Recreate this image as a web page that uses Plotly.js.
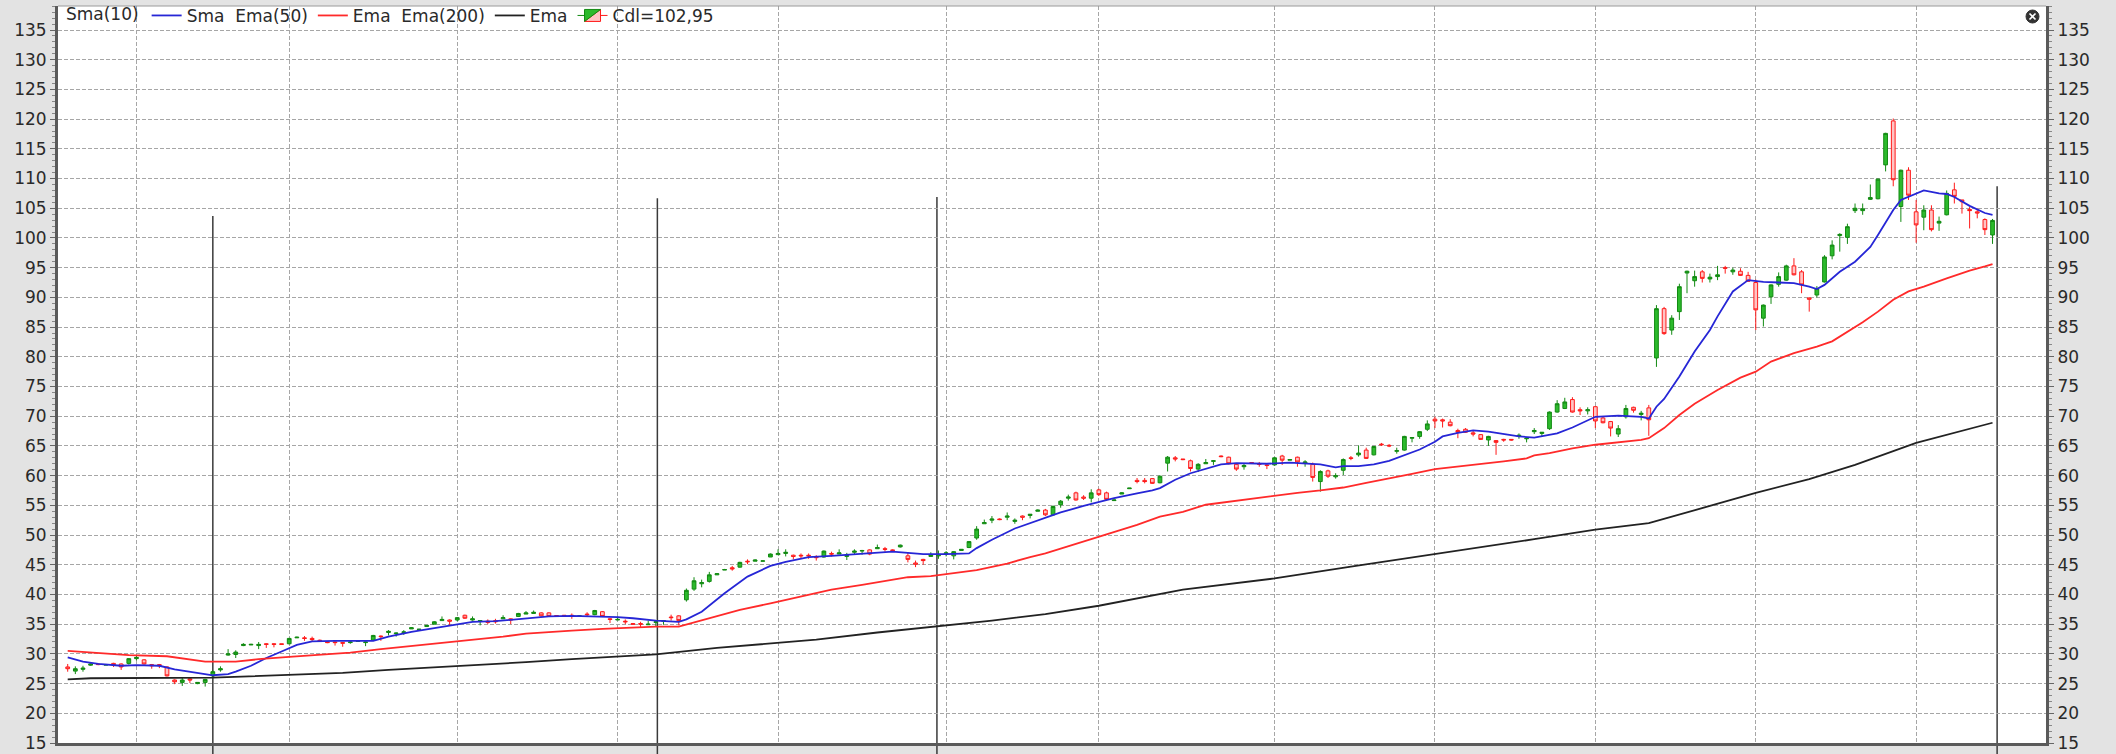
<!DOCTYPE html>
<html>
<head>
<meta charset="utf-8">
<script src="https://cdn.plot.ly/plotly-3.0.1.min.js"></script>
<style>
  html, body { margin: 0; padding: 0; background: #e3e3e3; }
  #chart { width: 2116px; height: 754px; }
</style>
</head>
<body>
<div id="chart"></div>
<script>
// candles, one per trading day
var open = [
  27.8, 27.1, 27.4, 28.1, 28.3, 28.1, 28.4, 28.3, 28.4, 29.2,
  29.0, 28.2, 28.2, 27.8, 25.6, 25.2, 25.8, 25.0, 25.2, 26.3,
  27.3, 29.8, 29.9, 31.4, 31.5, 31.4, 31.7, 31.7, 31.7, 31.7,
  32.7, 32.7, 32.6, 32.3, 32.0, 32.0, 31.9, 31.9, 32.1, 31.9,
  32.3, 33.0, 33.6, 33.4, 33.6, 34.2, 34.1, 34.6, 35.0, 35.6,
  35.7, 35.7, 36.5, 35.7, 35.5, 35.5, 35.6, 35.9, 35.9, 36.3,
  36.7, 36.8, 36.9, 36.9, 36.45, 36.5, 36.5, 36.3, 36.7, 36.6,
  37.1, 35.9, 35.7, 35.5, 35.1, 35.1, 34.9, 35.3, 35.5, 36.2,
  36.4, 39.1, 40.9, 41.8, 42.2, 43.3, 44.1, 44.5, 44.6, 45.6,
  45.6, 45.6, 46.3, 46.7, 46.9, 46.6, 46.6, 46.6, 46.3, 46.3,
  46.9, 46.8, 46.4, 47.1, 47.3, 47.5, 47.7, 47.7, 47.5, 48.0,
  46.5, 45.3, 45.9, 46.4, 46.5, 46.8, 46.5, 47.4, 47.9, 49.5,
  51.9, 52.5, 52.7, 53.0, 52.3, 53.2, 53.3, 54.0, 54.2, 53.4,
  55.1, 56.2, 57.1, 56.4, 56.2, 57.6, 57.1, 55.8, 56.9, 57.8,
  59.2, 59.2, 59.5, 58.8, 62.1, 63.0, 62.8, 62.5, 61.1, 62.0,
  62.4, 63.3, 63.1, 61.9, 61.5, 62.2, 62.0, 61.8, 61.8, 63.3,
  62.6, 63.1, 62.1, 61.9, 59.0, 60.8, 59.8, 60.9, 63.0, 63.5,
  64.3, 63.5, 65.3, 65.1, 64.1, 64.3, 66.3, 66.6, 67.8, 69.5,
  69.4, 69.0, 67.6, 67.8, 67.2, 66.9, 66.0, 65.9, 66.1, 66.1,
  66.6, 66.2, 67.4, 67.1, 67.9, 70.7, 71.3, 72.8, 71.1, 70.9,
  71.6, 69.7, 69.1, 67.0, 69.9, 71.5, 70.3, 71.4, 79.8, 88.1,
  84.5, 87.6, 94.1, 92.8, 94.3, 93.1, 93.5, 95.0, 94.3, 94.4,
  93.7, 92.5, 86.5, 90.1, 92.2, 92.9, 95.3, 94.3, 89.9, 90.4,
  92.6, 97.0, 100.4, 100.1, 104.6, 104.6, 106.5, 106.6, 112.3, 119.7,
  105.3, 111.4, 104.4, 103.5, 104.7, 102.5, 103.9, 108.1, 106.4, 104.8,
  104.4, 103.1, 100.5
];
var high = [
  28.3, 27.9, 28.0, 28.4, 28.4, 28.3, 28.5, 28.4, 29.3, 29.7,
  29.1, 28.3, 28.3, 27.9, 25.7, 26.0, 26.0, 25.2, 25.8, 27.2,
  27.9, 30.8, 30.6, 31.8, 31.7, 32.0, 31.8, 31.8, 31.7, 32.7,
  32.9, 33.0, 32.9, 32.4, 32.1, 32.1, 32.0, 32.3, 32.3, 32.1,
  33.2, 33.1, 34.0, 33.6, 34.0, 34.5, 34.2, 34.8, 35.5, 36.3,
  35.8, 36.2, 36.6, 36.3, 35.7, 35.8, 35.9, 36.5, 36.0, 36.9,
  37.2, 37.3, 37.0, 37.0, 36.5, 36.5, 36.8, 36.5, 37.0, 37.4,
  37.2, 36.0, 36.3, 35.8, 35.2, 35.4, 35.6, 35.5, 35.7, 36.6,
  36.5, 41.0, 42.9, 42.5, 43.8, 43.6, 44.3, 44.8, 45.5, 45.9,
  45.9, 45.7, 46.9, 47.6, 47.6, 46.7, 46.9, 46.9, 46.6, 47.4,
  47.2, 47.6, 47.0, 47.6, 47.5, 47.6, 48.4, 48.0, 47.6, 48.4,
  47.0, 45.7, 46.0, 47.1, 47.4, 47.3, 47.3, 47.6, 49.0, 51.5,
  52.6, 53.2, 52.8, 53.8, 52.8, 53.3, 53.5, 54.3, 54.4, 55.0,
  55.9, 56.8, 57.3, 56.7, 57.7, 57.8, 57.3, 56.0, 57.2, 57.9,
  59.6, 59.6, 59.6, 60.0, 63.3, 63.3, 62.8, 62.7, 62.1, 62.8,
  62.6, 63.4, 63.2, 62.0, 62.1, 62.2, 62.3, 61.9, 63.1, 63.5,
  62.8, 63.2, 62.6, 62.2, 60.9, 61.0, 60.4, 62.9, 63.3, 65.1,
  64.7, 65.0, 65.5, 65.3, 64.7, 66.7, 66.5, 67.5, 69.3, 69.9,
  69.6, 69.5, 67.9, 68.0, 67.6, 67.0, 66.7, 65.9, 66.2, 66.1,
  67.1, 66.4, 68.0, 67.3, 70.8, 72.7, 73.1, 73.2, 71.5, 71.5,
  71.7, 69.9, 69.2, 68.5, 71.9, 71.6, 70.9, 71.9, 88.7, 88.4,
  87.0, 92.3, 94.5, 94.5, 94.6, 94.0, 95.3, 95.3, 95.0, 94.9,
  94.3, 93.0, 88.8, 92.2, 94.2, 95.5, 96.6, 94.6, 90.0, 91.9,
  97.1, 99.6, 100.8, 102.4, 105.8, 105.8, 109.0, 110.0, 117.7, 120.1,
  111.5, 111.9, 106.4, 105.5, 105.5, 103.6, 108.0, 109.3, 106.4, 105.2,
  105.0, 103.3, 103.2
];
var low = [
  27.0, 26.6, 27.0, 28.0, 28.1, 28.1, 27.8, 27.3, 28.2, 28.9,
  28.2, 27.5, 27.6, 26.2, 24.9, 24.6, 25.1, 24.9, 24.5, 26.0,
  27.0, 29.7, 29.3, 31.3, 31.5, 30.8, 31.0, 31.1, 31.5, 31.6,
  32.7, 32.2, 32.0, 32.0, 31.8, 31.4, 31.2, 31.7, 32.1, 31.3,
  32.2, 32.2, 33.1, 32.9, 33.2, 34.2, 34.1, 34.6, 35.0, 35.6,
  34.8, 35.5, 35.9, 35.6, 34.8, 35.0, 35.1, 35.9, 35.0, 36.2,
  36.7, 36.8, 36.3, 36.2, 36.3, 36.3, 35.9, 36.3, 36.2, 36.5,
  36.2, 35.2, 35.7, 35.0, 34.9, 34.5, 34.9, 34.6, 34.9, 35.6,
  34.8, 38.8, 40.6, 41.2, 42.0, 43.3, 44.1, 44.0, 44.5, 45.1,
  45.6, 45.6, 46.3, 46.7, 46.4, 45.9, 46.0, 46.0, 45.7, 46.2,
  46.4, 46.8, 45.8, 46.7, 46.7, 46.6, 47.7, 47.2, 47.3, 47.9,
  45.4, 44.6, 45.0, 46.4, 46.0, 46.4, 45.9, 47.4, 47.8, 49.2,
  51.9, 52.0, 52.5, 52.5, 51.9, 52.5, 52.8, 54.0, 53.2, 53.3,
  54.6, 55.8, 55.8, 55.9, 55.5, 56.6, 55.8, 55.8, 56.9, 57.8,
  58.7, 58.7, 58.6, 58.7, 60.7, 62.4, 62.6, 60.7, 60.6, 62.0,
  61.8, 63.1, 61.9, 60.8, 61.0, 62.0, 61.5, 61.1, 61.7, 61.8,
  62.6, 61.5, 61.5, 59.0, 57.3, 59.6, 59.5, 60.1, 62.6, 63.2,
  62.8, 63.4, 65.0, 64.8, 63.7, 64.2, 65.6, 66.2, 67.5, 68.0,
  68.1, 68.3, 66.3, 67.2, 66.6, 66.0, 65.0, 63.5, 65.7, 65.9,
  66.2, 65.6, 67.0, 66.5, 67.7, 70.6, 71.2, 70.6, 70.2, 70.3,
  68.0, 68.8, 66.6, 66.5, 69.6, 70.6, 69.3, 66.7, 78.3, 83.7,
  83.7, 86.2, 90.7, 91.8, 92.5, 92.5, 92.9, 94.0, 93.8, 93.6,
  92.6, 84.5, 85.1, 88.9, 91.8, 92.8, 93.7, 90.7, 87.6, 90.0,
  92.5, 96.4, 97.7, 99.0, 104.2, 103.9, 106.4, 106.5, 111.2, 108.7,
  102.7, 106.4, 99.2, 101.3, 101.1, 101.2, 103.8, 105.8, 104.1, 101.6,
  103.3, 100.5, 99.0
];
var close = [
  27.5, 27.5, 27.6, 28.3, 28.2, 28.2, 28.2, 27.8, 29.2, 29.4,
  28.3, 28.0, 28.0, 26.3, 25.3, 25.6, 25.6, 25.2, 25.7, 27.0,
  27.5, 30.0, 30.3, 31.6, 31.6, 31.6, 31.6, 31.6, 31.6, 32.6,
  32.8, 32.6, 32.4, 32.2, 31.9, 31.9, 31.8, 32.0, 32.2, 32.0,
  33.1, 32.9, 33.8, 33.5, 33.7, 34.4, 34.15, 34.8, 35.4, 35.8,
  35.5, 36.1, 36.0, 35.9, 35.6, 35.3, 35.4, 36.1, 35.7, 36.8,
  36.9, 37.0, 36.4, 36.3, 36.4, 36.4, 36.4, 36.4, 36.6, 37.3,
  36.3, 35.8, 35.8, 35.4, 35.0, 35.0, 35.0, 35.4, 35.6, 36.1,
  35.6, 40.7, 42.3, 42.0, 43.3, 43.5, 44.2, 44.3, 45.4, 45.5,
  45.8, 45.65, 46.8, 46.9, 47.1, 46.4, 46.5, 46.5, 46.2, 47.3,
  46.8, 47.0, 46.6, 47.3, 47.4, 46.8, 47.9, 47.6, 47.4, 48.3,
  45.9, 45.1, 45.7, 46.6, 46.7, 47.0, 47.2, 47.6, 48.9, 51.0,
  52.1, 52.7, 52.6, 53.2, 52.5, 53.0, 53.5, 54.2, 53.4, 54.8,
  55.7, 56.4, 55.9, 56.2, 57.1, 56.8, 56.0, 55.9, 57.1, 57.9,
  59.0, 59.0, 58.7, 59.9, 63.1, 62.8, 62.7, 61.2, 61.9, 62.2,
  62.5, 63.2, 62.0, 61.1, 61.7, 62.1, 61.9, 61.7, 63.0, 62.6,
  62.7, 62.3, 62.3, 59.7, 60.7, 59.9, 60.0, 62.7, 62.9, 63.8,
  62.9, 64.9, 65.2, 65.0, 64.2, 66.6, 66.4, 67.4, 68.7, 69.2,
  69.2, 68.4, 67.3, 67.3, 67.0, 66.1, 66.6, 65.6, 66.0, 66.0,
  66.8, 66.3, 67.6, 67.3, 70.7, 72.1, 72.4, 70.7, 70.9, 71.1,
  69.2, 68.9, 68.0, 67.9, 71.3, 71.0, 70.5, 69.4, 88.1, 83.9,
  86.5, 91.8, 94.4, 93.5, 93.2, 93.4, 93.8, 94.9, 94.6, 93.7,
  92.7, 87.9, 88.7, 92.1, 93.5, 95.3, 93.8, 92.1, 89.7, 91.5,
  96.8, 98.8, 100.6, 101.9, 105.0, 104.9, 106.8, 109.9, 117.6, 109.8,
  111.4, 107.2, 102.2, 104.7, 101.4, 102.8, 107.5, 107.0, 106.1, 104.6,
  104.2, 101.4, 102.95
];

// indicator lines, sampled at the candle index where they were read
var smaIdx = [0,2,4,7,9,11,12,14,16,18,19,21,22,24,26,28,30,32,35,40,42,45,48,51,53,56,58,60,63,66,
  70,72,74,77,80,81,83,86,89,92,94,97,100,104,108,110,112,115,118,119,121,124,126,128,130,133,135,137,140,142,
  143,145,147,149,151,153,157,160,162,164,166,167,169,171,173,175,177,179,180,182,184,186,188,190,192,195,197,200,203,206,
  207,208,209,211,213,215,216,218,220,222,224,226,228,229,230,232,234,236,237,239,240,242,243,245,246,247,249,251,252];
var smaVal = [29.4,28.7,28.3,28.0,28.1,28.1,28.0,27.4,27.0,26.6,26.4,26.6,27.0,28.0,29.3,30.4,31.5,32.1,32.2,32.2,
  32.9,33.7,34.3,35.0,35.4,35.5,35.7,36.0,36.3,36.4,36.3,36.2,36.0,35.6,35.4,35.8,37.1,40.2,43.0,44.8,
  45.5,46.3,46.5,46.8,47.2,47.0,46.8,46.8,46.9,47.8,49.2,51.1,52.0,52.8,53.8,54.9,55.6,56.2,57.0,57.5,
  57.9,59.3,60.4,61.2,61.9,62.1,62.0,62.2,62.1,61.9,61.4,61.6,61.6,61.9,62.5,63.5,64.4,65.7,66.6,67.2,
  67.6,67.4,67.0,66.6,66.4,67.1,68.1,69.9,70.1,69.9,69.6,71.6,72.9,76.7,80.9,84.5,86.8,91.0,92.9,92.6,
  92.5,92.4,91.8,91.4,92.1,94.3,96.0,98.5,100.5,104.7,106.4,107.5,108.0,107.5,107.4,106.9,105.4,104.2,103.9];

var ema50Idx = [0,3,8,13,16,18,22,25,29,33,37,41,45,49,53,57,60,63,66,70,73,77,80,82,85,88,92,96,100,104,
  108,110,113,116,119,123,126,128,131,134,137,140,143,146,149,152,155,158,161,164,167,170,173,176,179,182,185,188,191,192,
  194,197,200,203,206,207,209,211,213,216,219,221,223,226,229,231,233,235,237,239,241,243,246,249,251,252];
var ema50Val = [30.5,30.2,29.8,29.6,29.1,28.7,28.7,29.1,29.5,29.8,30.2,30.8,31.3,31.9,32.3,32.9,33.4,33.7,33.9,34.2,
  34.4,34.6,34.6,35.3,36.3,37.4,38.5,39.6,40.8,41.6,42.4,42.9,43.1,43.6,44.1,45.2,46.3,46.9,48.1,49.2,
  50.4,51.7,53.1,53.9,55.1,55.6,56.2,56.7,57.1,57.5,58.0,58.8,59.5,60.3,61.1,61.5,62.0,62.4,62.9,63.4,
  63.8,64.6,65.2,65.6,66.0,66.3,68.0,70.2,72.1,74.4,76.5,77.5,79.2,80.6,81.7,82.6,84.2,85.8,87.6,89.6,
  91.0,91.8,93.2,94.5,95.2,95.6];

var ema200Idx = [0,3,19,24,30,36,42,48,54,60,66,77,85,92,98,106,113,121,128,135,146,158,168,179,185,192,200,207,215,221,228,234,242,252];
var ema200Val = [25.7,25.9,26.0,26.2,26.5,26.8,27.3,27.7,28.1,28.6,29.1,29.9,31.0,31.8,32.4,33.6,34.5,35.6,36.7,38.1,
  40.8,42.7,44.7,46.8,47.9,49.3,50.9,52.0,54.9,57.1,59.4,61.8,65.5,68.9];

// month gridlines and the dark period separators (position, top value)
var monthTicks = [9, 29, 51, 72, 93, 115, 135, 158, 179, 200, 221, 242];
var sepIdx = [19.0, 77.2, 113.8, 252.6];
var sepTop = [103.7, 106.7, 106.9, 108.7];

var yRange = [15, 139.04];
var xRange = [-1.27, 259];

var idx = open.map(function(_, i) { return i; });
var lastClose = close[close.length - 1];

var candles = {
  type: 'candlestick',
  x: idx, open: open, high: high, low: low, close: close,
  name: 'Cdl=' + lastClose.toFixed(2).replace('.', ','),
  legendrank: 4,
  increasing: { line: { color: '#128a12', width: 1 }, fillcolor: '#2cba2c' },
  decreasing: { line: { color: '#ff1a1a', width: 1 }, fillcolor: '#ffc4c4' },
  whiskerwidth: 0,
  hoverinfo: 'skip'
};

var sma = {
  type: 'scatter', mode: 'lines', x: smaIdx, y: smaVal,
  name: 'Sma\u00a0 Ema(50)', legendrank: 1,
  line: { color: '#2626d6', width: 1.8 }
};
var ema50 = {
  type: 'scatter', mode: 'lines', x: ema50Idx, y: ema50Val,
  name: 'Ema\u00a0 Ema(200)', legendrank: 2,
  line: { color: '#ff2a2a', width: 1.8 }
};
// the 200 line sits on the right-hand axis so that axis gets drawn
var ema200 = {
  type: 'scatter', mode: 'lines', x: ema200Idx, y: ema200Val, yaxis: 'y2',
  name: 'Ema', legendrank: 3,
  line: { color: '#222222', width: 1.8 }
};

var data = [candles, sma, ema50, ema200];

var font = { family: 'DejaVu Sans', size: 17, color: '#2a2a2a' };

var yAxisBase = {
  range: yRange,
  tick0: 15, dtick: 5,
  ticks: 'outside', ticklen: 5, tickwidth: 1, tickcolor: '#666',
  minor: { dtick: 1, ticks: 'outside', ticklen: 3, tickcolor: '#888', showgrid: false },
  showline: true, linecolor: '#5a5a5a', linewidth: 3,
  zeroline: false, fixedrange: true,
  tickfont: font
};

var shapes = [
  // thin frame line at the top
  { type: 'line', xref: 'paper', yref: 'paper', x0: 0, x1: 1, y0: 1, y1: 1,
    line: { color: '#9a9a9a', width: 1 } },
  // close button in the corner
  { type: 'circle', xref: 'paper', yref: 'paper', xsizemode: 'pixel', ysizemode: 'pixel',
    xanchor: 1, yanchor: 1, x0: -20, x1: -7, y0: -17, y1: -4,
    fillcolor: '#333', line: { color: '#333', width: 1 } },
  { type: 'line', xref: 'paper', yref: 'paper', xsizemode: 'pixel', ysizemode: 'pixel',
    xanchor: 1, yanchor: 1, x0: -16.5, x1: -10.5, y0: -13.5, y1: -7.5,
    line: { color: '#fff', width: 1.6 } },
  { type: 'line', xref: 'paper', yref: 'paper', xsizemode: 'pixel', ysizemode: 'pixel',
    xanchor: 1, yanchor: 1, x0: -16.5, x1: -10.5, y0: -7.5, y1: -13.5,
    line: { color: '#fff', width: 1.6 } }
];
sepIdx.forEach(function(p, i) {
  shapes.push({
    type: 'line', xref: 'x', yref: 'paper', layer: 'between',
    x0: p, x1: p, y0: -0.03, y1: (sepTop[i] - yRange[0]) / (yRange[1] - yRange[0]),
    line: { color: '#3a3a3a', width: 1.5 }
  });
});

var layout = {
  width: 2116, height: 754,
  // keep the plot box fixed, the legend pokes a little above it
  margin: { l: 58, r: 70, t: 6, b: 11, autoexpand: false },
  paper_bgcolor: '#e3e3e3',
  plot_bgcolor: '#ffffff',
  font: font,
  showlegend: true,
  legend: {
    orientation: 'h', x: 0.003, y: 1.011, xanchor: 'left', yanchor: 'top',
    bgcolor: 'rgba(0,0,0,0)', font: font,
    title: { text: 'Sma(10)', font: font },
    itemwidth: 30
  },
  xaxis: {
    range: xRange,
    rangeslider: { visible: false },
    tickvals: monthTicks, showticklabels: false, ticks: '',
    showgrid: true, gridcolor: '#a6a6a6', griddash: '4px,2px', gridwidth: 1,
    showline: true, linecolor: '#5a5a5a', linewidth: 3,
    zeroline: false, fixedrange: true
  },
  yaxis: Object.assign({}, yAxisBase, {
    side: 'left',
    showgrid: true, gridcolor: '#a6a6a6', griddash: '4px,2px', gridwidth: 1
  }),
  yaxis2: Object.assign({}, yAxisBase, {
    side: 'right', overlaying: 'y', showgrid: false
  }),
  shapes: shapes,
  boxgap: 0.3
};

Plotly.newPlot('chart', data, layout, { staticPlot: true });
</script>
</body>
</html>
